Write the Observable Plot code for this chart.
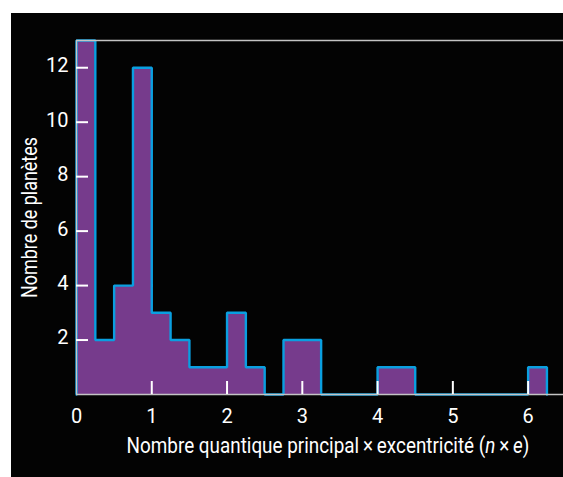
<!DOCTYPE html>
<html>
<head>
<meta charset="utf-8">
<script src="https://cdn.jsdelivr.net/npm/d3@7"></script>
<script src="https://cdn.jsdelivr.net/npm/@observablehq/plot@0.6"></script>
<style>
  html, body { margin: 0; padding: 0; background: #ffffff; }
  #chart { position: absolute; left: 11px; top: 13px; width: 552px; height: 464px; background: #030303; overflow: hidden; }
  #chart svg { display: block; }
</style>
</head>
<body>
<div id="chart"></div>
<script>
// ---- data ----
const binStart = 0;
const binWidth = 0.25;
const counts = [13, 2, 4, 12, 3, 2, 1, 1, 3, 1, 0, 2, 2, 0, 0, 0, 1, 1, 0, 0, 0, 0, 0, 0, 1];
const xTickLabels = [0, 1, 2, 3, 4, 5, 6];
const xTickMarks = [1, 2, 3, 4, 5, 6];
const yTicks = [2, 4, 6, 8, 10, 12];
const xDomain = [0, 6.47];
const yDomain = [0, 13];
const xLabel = "Nombre quantique principal × excentricité (n × e)";
const yLabel = "Nombre de planètes";

// step table built from the bins
const steps = counts.map((c, i) => ({x: binStart + i * binWidth, y: c}));
steps.push({x: binStart + counts.length * binWidth, y: 0});
const outline = [{x: binStart, y: 0}, ...steps];

const purple = "#763b8c";
const blue = "#0a9fe0";
const frameGray = "#c4c4c4";
const font = "Roboto, 'Liberation Sans', sans-serif";

const W = 552, H = 464;
const mL = 65, mR = 0, mT = 27, mB = 83;

const svg = Plot.plot({
  width: W,
  height: H,
  marginLeft: mL,
  marginRight: mR,
  marginTop: mT,
  marginBottom: mB,
  style: {background: "transparent", color: "#fff", fontFamily: font, fontSize: "20px", overflow: "visible"},
  x: {domain: xDomain},
  y: {domain: yDomain},
  marks: [
    Plot.areaY(steps, {x: "x", y: "y", curve: "step-after", fill: purple}),
    Plot.lineY(outline, {x: "x", y: "y", curve: "step-after", stroke: blue, strokeWidth: 2.4, strokeLinejoin: "miter"}),
    Plot.ruleY([yDomain[0]], {stroke: frameGray, strokeWidth: 1.3}),
    Plot.ruleY([yDomain[1]], {stroke: frameGray, strokeWidth: 1.3}),
    Plot.ruleX([xDomain[0]], {stroke: frameGray, strokeWidth: 1.3}),
    Plot.tickX(xTickMarks, {x: d => d, stroke: "#fff", strokeWidth: 2, insetTop: (H - mT - mB) - 13}),
    Plot.tickY(yTicks, {y: d => d, stroke: "#fff", strokeWidth: 2, insetRight: (W - mL - mR) - 12}),
    Plot.axisX(xTickLabels, {tickSize: 0, tickPadding: 14, fontSize: 20, fill: "#fff", label: null}),
    Plot.axisY(yTicks, {tickSize: 0, tickPadding: 8, fontSize: 20, fill: "#fff", label: null, dy: -2}),
    Plot.text([xLabel], {frameAnchor: "bottom", textAnchor: "middle", dy: 58, dx: 8, lineAnchor: "bottom", text: d => d, fill: "#fff", fontSize: 22}),
    Plot.text([yLabel], {frameAnchor: "left", textAnchor: "middle", dx: -47, rotate: -90, lineAnchor: "middle", text: d => d, fill: "#fff", fontSize: 22})
  ]
});

document.getElementById("chart").appendChild(svg);

// condensed look: squeeze the axis titles horizontally to the reference lengths
function squeeze(el, target) {
  const w = el.getComputedTextLength();
  if (!w) return;
  const s = target / w;
  const tr = el.getAttribute("transform");
  if (tr) {
    el.setAttribute("transform", tr + ` scale(${s},1)`);
  } else {
    const cx = +el.getAttribute("x") || 0;
    el.setAttribute("transform", `translate(${cx},0) scale(${s},1) translate(${-cx},0)`);
  }
}
const texts = [...svg.querySelectorAll("text")];
const tx = texts.find(e => e.textContent === xLabel);
if (tx) {
  tx.textContent = "";
  const parts = [
    ["Nombre quantique principal\u2009×\u2009excentricité (", "normal"],
    ["n", "italic"],
    ["\u2009×\u2009", "normal"],
    ["e", "italic"],
    [")", "normal"]
  ];
  for (const [s, st] of parts) {
    const sp = document.createElementNS("http://www.w3.org/2000/svg", "tspan");
    sp.textContent = s;
    sp.setAttribute("font-style", st);
    tx.appendChild(sp);
  }
  squeeze(tx, 403);
}
const ty = texts.find(e => e.textContent === yLabel);
if (ty) squeeze(ty, 161);
</script>
</body>
</html>
